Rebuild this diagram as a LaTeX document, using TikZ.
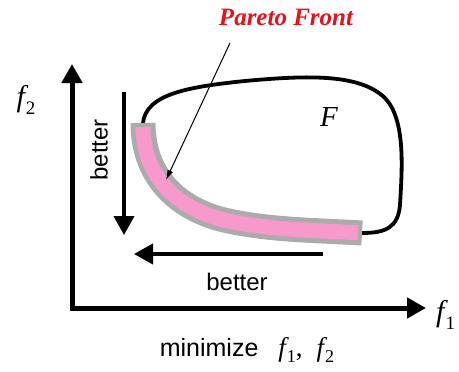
\documentclass[tikz,border=0pt]{standalone}
\usepackage{fontspec}
\setmainfont{Liberation Sans}
\newfontfamily\timesfont{Liberation Serif}
\usetikzlibrary{arrows.meta,positioning}
\definecolor{FrontPink}{HTML}{F799CB}
\definecolor{FrontGray}{HTML}{ABABAB}
\definecolor{FrontRed}{HTML}{E8101A}
% objective f with subscript (optional: subscript size)
\newcommand\objf[2][15]{{\timesfont\itshape f}\kern1pt\raisebox{-0.45ex}{\fontsize{#1}{#1}\timesfont #2}}
\tikzset{
  % Thick axis arrow
  axis/.style={
    -{Triangle[length=19pt,width=20pt]},
    line width=5pt, line cap=rect
  },
  % "better" direction arrow
  dirarr/.style={
    -{Triangle[length=19pt,width=20pt]},
    line width=4pt
  },
  % Sans label
  lbl/.style={font=\fontsize{24}{26}\selectfont, inner sep=0pt},
  % Objective label on an axis
  objlbl/.style={font=\fontsize{30}{32}\selectfont, inner sep=0pt}
}
\begin{document}
\begin{tikzpicture}[x=1pt, y=-1pt]

  \useasboundingbox (0,0) rectangle (459,372);

  % Axes
  \coordinate (origin) at (72,308);
  \coordinate (ytip) at (72,64);
  \coordinate (xtip) at (426,308);
  \draw[axis] (origin) -- (ytip);
  \draw[axis] (origin) -- (xtip);
  \node[objlbl] (f2lbl) at (26,100) {\objf[19]{2}};
  \node[objlbl, anchor=west] (f1lbl) at (436,315) {\objf[19]{1}};

  % Feasible region F
  \coordinate (pftop) at (143,123);
  \coordinate (pfend) at (362,233);
  \draw[line width=3.8pt] (pftop) .. controls (146,95) and (185,87) .. (245,81)
    .. controls (310,75) and (360,74) .. (385,98)
    .. controls (406,120) and (402,170) .. (400,205)
    .. controls (398,228) and (385,233) .. (pfend);
  \node[font=\fontsize{29}{31}\timesfont\itshape, inner sep=0pt] (flbl) at (329,117) {F};

  % Pareto front band
  \draw[line width=25pt, FrontGray] (pftop) .. controls (143,170) and (170,205) .. (220,219)
    .. controls (265,230) and (310,230) .. (pfend);
  \draw[line width=15pt, FrontPink, shorten <=4pt, shorten >=4pt]
    (pftop) .. controls (143,170) and (170,205) .. (220,219)
    .. controls (265,230) and (310,230) .. (pfend);

  % Pareto front label
  \node[font=\fontsize{25}{27}\timesfont\bfseries\itshape, text=FrontRed, inner sep=0pt]
    (pflbl) at (286,17) {Pareto Front};
  \coordinate (pfstart) at (230,43);
  \coordinate (pfhit) at (166,180);
  \draw[-{Latex[length=10pt,width=6pt]}, line width=1pt] (pfstart) -- (pfhit);

  % Better arrows
  \coordinate (vtop) at (124,92);
  \coordinate (vbot) at (124,235);
  \draw[dirarr] (vtop) -- (vbot);
  \node[lbl, rotate=90] (betterv) at (99,150) {better};
  \coordinate (hright) at (323,254);
  \coordinate (hleft) at (134,254);
  \draw[dirarr] (hright) -- (hleft);
  \node[lbl] (betterh) at (237,282) {better};

  % Caption
  \node[lbl, font=\fontsize{25}{27}\selectfont] (minlbl) at (247,350)
    {minimize\hspace{20pt}{\fontsize{27}{29}\selectfont\objf[18]{1}{\timesfont ,}\hspace{14pt}\objf[18]{2}}};

\end{tikzpicture}
\end{document}
